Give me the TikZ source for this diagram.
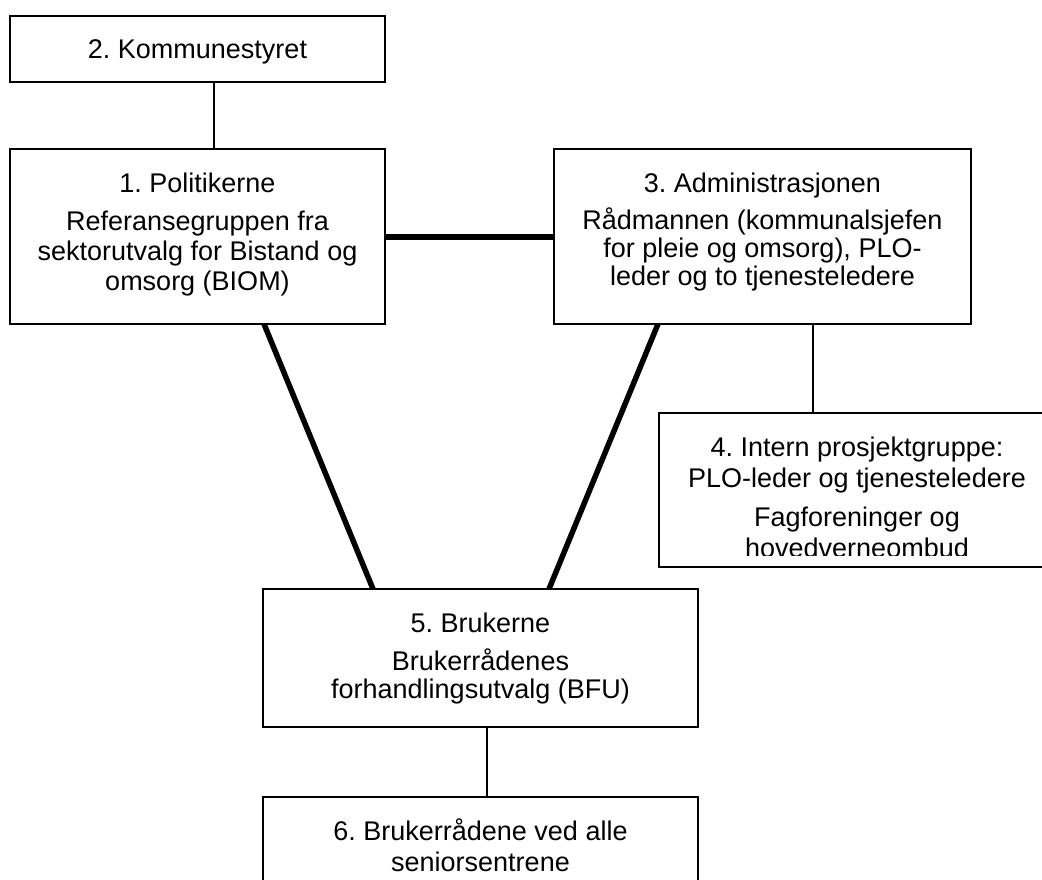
\documentclass[tikz,border=0pt]{standalone}
\usepackage{fontspec}
\setmainfont{Liberation Sans}
\frenchspacing
\tikzset{
  box/.style={draw=black, line width=1.6pt, inner sep=0pt, outer sep=0pt, fill=none},
  txt/.style={inner sep=0pt, outer sep=0pt, anchor=base, font=\fontsize{27}{30}\selectfont\frenchspacing},
  thin/.style={line width=1.6pt},
  thick/.style={line width=5.5pt}
}
\begin{document}
\begin{tikzpicture}[x=1pt, y=-1pt]
\useasboundingbox (0,0) rectangle (1042,880);
\clip (0,0) rectangle (1042,880);
\fill[white] (0,0) rectangle (1042,880);

% boxes
\node[box, minimum width=375pt, minimum height=66pt]  (b2) at (197.5,49) {};
\node[box, minimum width=375pt, minimum height=175pt] (b1) at (197.5,236.5) {};
\node[box, minimum width=417pt, minimum height=175pt] (b3) at (762.5,236.5) {};
\node[box, minimum width=396pt, minimum height=154pt] (b4) at (857,490) {};
\node[box, minimum width=435pt, minimum height=138pt] (b5) at (480.5,658) {};
\node[box, minimum width=435pt, minimum height=103pt] (b6) at (480.5,848.5) {};

% texts
\node[txt] (t2) at (197.5,59) {2. Kommunestyret};

\node[txt] (t1a) at (197.5,192.5) {1. Politikerne};
\node[txt] (t1b) at (197.5,230.5) {Referansegruppen fra};
\node[txt] (t1c) at (197.5,260.5) {sektorutvalg for Bistand og};
\node[txt] (t1d) at (197.5,290.5) {omsorg (BIOM)};

\node[txt] (t3a) at (762.5,192.5) {3. Administrasjonen};
\node[txt] (t3b) at (762.5,229.5) {Rådmannen (kommunalsjefen};
\node[txt] (t3c) at (762.5,257.5) {for pleie og omsorg), PLO-};
\node[txt] (t3d) at (762.5,285.5) {leder og to tjenesteledere};

\node[txt] (t4a) at (857,456) {4. Intern prosjektgruppe:};
\node[txt] (t4b) at (857,487) {PLO-leder og tjenesteledere};
\node[txt] (t4c) at (857,526) {Fagforeninger og};
\begin{scope}
  \clip (659,530) rectangle (1055,555.5);
  \node[txt] (t4d) at (857,557) {hovedverneombud};
\end{scope}

\node[txt] (t5a) at (480.5,632.5) {5. Brukerne};
\node[txt] (t5b) at (480.5,670) {Brukerrådenes};
\node[txt] (t5c) at (480.5,698) {forhandlingsutvalg (BFU)};

\node[txt] (t6a) at (480.5,840.5) {6. Brukerrådene ved alle};
\node[txt] (t6b) at (480.5,871) {seniorsentrene};

% connectors
\draw[thin] (b2.south -| 214,0) -- (b1.north -| 214,0);
\draw[thin] (b3.south -| 813,0) -- (b4.north -| 813,0);
\draw[thin] (b5.south -| 487,0) -- (b6.north -| 487,0);
\draw[thick] (b1.east |- 0,237) -- (b3.west |- 0,237);
\draw[thick] (b1.south -| 264,0) -- (b5.north -| 373,0);
\draw[thick] (b3.south -| 658,0) -- (b5.north -| 549,0);
\end{tikzpicture}
\end{document}
